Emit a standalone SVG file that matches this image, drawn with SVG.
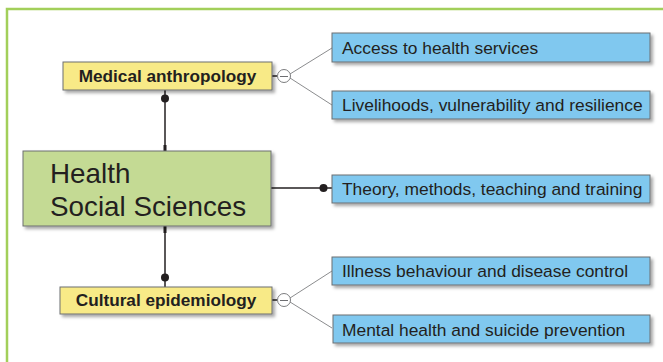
<svg xmlns="http://www.w3.org/2000/svg" width="663" height="362" viewBox="0 0 663 362">
  <defs>
    <filter id="shadow" x="-10%" y="-30%" width="125%" height="170%">
      <feDropShadow dx="2.5" dy="2.5" stdDeviation="1.6" flood-color="#000" flood-opacity="0.35"/>
    </filter>
    <style>
      .frame { fill: none; stroke: #a2cf5a; stroke-width: 2.5; }
      .box { stroke: #6d6e71; stroke-width: 1; filter: url(#shadow); }
      .core { fill: #c4da94; }
      .theme { fill: #f8ea87; }
      .topic { fill: #80c8ef; }
      .lbl { font-family: "Liberation Sans", Arial, Helvetica, sans-serif; fill: #231f20; }
      .bold { font-weight: bold; font-size: 17.2px; }
      .topic-text { font-size: 17.4px; }
      .big { font-size: 27.8px; }
      .link { stroke: #231f20; stroke-width: 1.5; fill: none; }
      .fan { stroke: #6d6e71; stroke-width: 0.8; fill: none; }
      .dot { fill: #231f20; }
      .toggle { fill: #fff; stroke: #6d6e71; stroke-width: 0.9; }
    </style>
  </defs>

  <rect width="663" height="362" fill="#fff"/>
  <!-- outer panel frame (runs off the right and bottom edges) -->
  <path class="frame" d="M7,370 V9 H670"/>

  <!-- connectors -->
  <g id="connectors">
    <!-- Medical anthropology to core -->
    <line class="link" x1="165" y1="90" x2="165" y2="151"/>
    <rect x="163.5" y="145" width="3" height="6" class="dot"/>
    <circle class="dot" cx="165" cy="98.5" r="4"/>
    <!-- core to Cultural epidemiology -->
    <line class="link" x1="165" y1="226" x2="165" y2="287"/>
    <rect x="163.5" y="226" width="3" height="7" class="dot"/>
    <circle class="dot" cx="165" cy="277.5" r="4"/>
    <!-- core to Theory -->
    <line class="link" x1="271" y1="188" x2="332" y2="188"/>
    <circle class="dot" cx="323.5" cy="188" r="4"/>

    <!-- Medical anthropology fan -->
    <line class="link" x1="272" y1="76" x2="277" y2="76" stroke-width="1"/>
    <line class="fan" x1="290" y1="74" x2="332" y2="48"/>
    <line class="fan" x1="290" y1="78" x2="332" y2="105"/>
    <circle class="toggle" cx="284" cy="76" r="6.5"/>
    <line x1="280" y1="76.5" x2="288" y2="76.5" stroke="#6d6e71" stroke-width="1"/>

    <!-- Cultural epidemiology fan -->
    <line class="link" x1="272" y1="300" x2="277" y2="300" stroke-width="1"/>
    <line class="fan" x1="290" y1="298" x2="332" y2="271"/>
    <line class="fan" x1="290" y1="302" x2="332" y2="328"/>
    <circle class="toggle" cx="284" cy="300" r="6.5"/>
    <line x1="280" y1="300.5" x2="288" y2="300.5" stroke="#6d6e71" stroke-width="1"/>
  </g>

  <g id="core">
    <rect class="box core" x="23" y="151" width="248" height="75"/>
    <text class="lbl big" x="50" y="183">Health</text>
    <text class="lbl big" x="50" y="216">Social Sciences</text>
  </g>

  <g id="medical-anthropology">
    <rect class="box theme" x="63" y="62" width="209" height="28"/>
    <text class="lbl bold" x="167.5" y="82" text-anchor="middle">Medical anthropology</text>
  </g>

  <g id="cultural-epidemiology">
    <rect class="box theme" x="60" y="287" width="212" height="27"/>
    <text class="lbl bold" x="166" y="306" text-anchor="middle">Cultural epidemiology</text>
  </g>

  <g id="access">
    <rect class="box topic" x="332" y="33" width="318" height="29"/>
    <text class="lbl topic-text" x="342" y="53.5">Access to health services</text>
  </g>

  <g id="livelihoods">
    <rect class="box topic" x="332" y="91" width="318" height="28"/>
    <text class="lbl topic-text" x="342" y="111">Livelihoods, vulnerability and resilience</text>
  </g>

  <g id="theory">
    <rect class="box topic" x="332" y="175" width="318" height="28"/>
    <text class="lbl topic-text" x="342" y="195">Theory, methods, teaching and training</text>
  </g>

  <g id="illness">
    <rect class="box topic" x="332" y="257" width="318" height="28"/>
    <text class="lbl topic-text" x="342" y="277">Illness behaviour and disease control</text>
  </g>

  <g id="mental-health">
    <rect class="box topic" x="333" y="315" width="317" height="28"/>
    <text class="lbl topic-text" x="342" y="335.5">Mental health and suicide prevention</text>
  </g>
</svg>
